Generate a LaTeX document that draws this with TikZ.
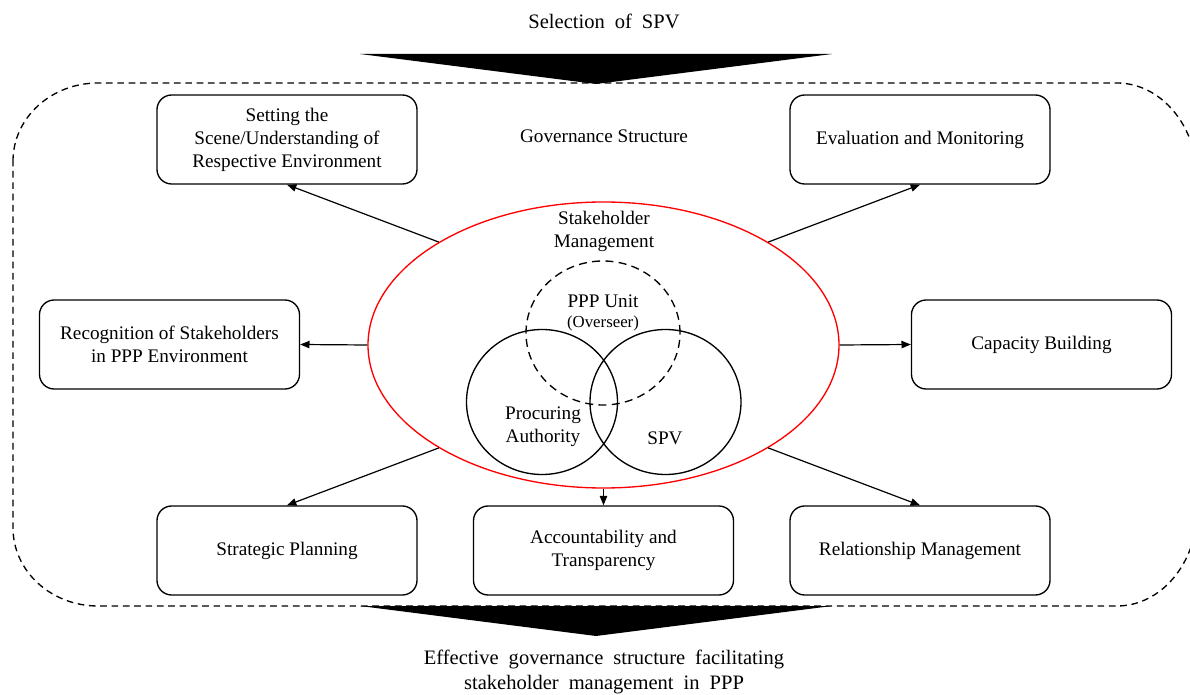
\documentclass[tikz,border=0pt]{standalone}
\usepackage{fontspec}
\setmainfont{Liberation Serif}
\usetikzlibrary{shapes.geometric,arrows.meta}
\newcommand\bxfont{\fontsize{14.4}{17.25}\selectfont}
\newcommand\smallfnt{\fontsize{12.6}{15}\selectfont}
\newcommand\ttlfont{\fontsize{15.4}{18.75}\selectfont\spaceskip=7.5pt plus 1pt minus 1pt}
\begin{document}
\begin{tikzpicture}[x=0.75pt,y=-0.75pt,
  stagebox/.style={draw,line width=1pt,rounded corners=11pt,minimum width=195pt,
    minimum height=66.75pt,align=center,font=\bxfont,inner sep=2pt},
  ring/.style={draw,ellipse,line width=1pt,inner sep=0pt},
  conn/.style={-{Triangle[length=7pt,width=5.5pt]},line width=0.9pt},
  lbl/.style={align=center,font=\bxfont,inner sep=0pt}]
\useasboundingbox (0,0) rectangle (1190,695);
\clip (0,0) rectangle (1190,695);

% headline and the funnel arrow into the frame
\node[align=center,font=\ttlfont] (head) at (604,21) {Selection of SPV};
\fill (360,54) -- (832,54) -- (596,84) -- cycle;

% dashed frame of the governance structure
\draw[line width=1pt,dash pattern=on 5pt off 3.5pt]
  (13,161) .. controls (13,118) and (51,83) .. (98,83)
  -- (1117,83) .. controls (1161,83) and (1197,126) .. (1197,178)
  -- (1197,511) .. controls (1197,563) and (1161,606) .. (1117,606)
  -- (98,606) .. controls (51,606) and (13,571) .. (13,528) -- cycle;

% outcome arrow and caption
\fill (360,606) -- (832,606) -- (596,636) -- cycle;
\node[align=center,font=\ttlfont] (foot) at (604,672)
  {Effective governance structure facilitating\\stakeholder management in PPP};

\node[lbl] (gov) at (604,136) {Governance Structure};

% surrounding stage boxes
\node[stagebox] (set)   at (287,139.5)   {Setting the\\Scene/Understanding of\\Respective Environment};
\node[stagebox] (eval)  at (920,139.5)   {Evaluation and Monitoring};
\node[stagebox] (rec)   at (169.5,344.5) {Recognition of Stakeholders\\in PPP Environment};
\node[stagebox] (cap)   at (1041.5,344.5){Capacity Building};
\node[stagebox] (strat) at (287,550.5)   {Strategic Planning};
\node[stagebox] (acc)   at (603.5,550.5) {Accountability and\\Transparency};
\node[stagebox] (rel)   at (920,550.5)   {Relationship Management};

% stakeholder management core
\node[ring,draw=red,minimum width=353.25pt,minimum height=214.5pt] (sm) at (603.5,345) {};
\node[ring,dash pattern=on 6pt off 4pt,minimum width=115.5pt,minimum height=108pt] (ppp) at (603,333) {};
\node[ring,minimum width=113.25pt,minimum height=108.75pt] (pa) at (542,402) {};
\node[ring,minimum width=113.25pt,minimum height=108.75pt] (spv) at (665.5,402) {};

\node[lbl] (smt) at (604,231) {Stakeholder\\Management};
\node[lbl] (pppt) at (603,301) {PPP Unit};
\node[lbl,font=\smallfnt] (ovs) at (603,323) {(Overseer)};
\node[lbl] (pat) at (543,427) {Procuring\\Authority};
\node[lbl] (spvt) at (665,438) {SPV};

% links from the core to every stage
\draw[conn] (sm.148) -- (set.south);
\draw[conn] (sm.32)  -- (eval.south);
\draw[conn] (sm.180) -- (rec.east);
\draw[conn] (sm.0)   -- (cap.west);
\draw[conn] (sm.212) -- (strat.north);
\draw[conn] (sm.270) -- (acc.north);
\draw[conn] (sm.328) -- (rel.north);
\end{tikzpicture}
\end{document}
